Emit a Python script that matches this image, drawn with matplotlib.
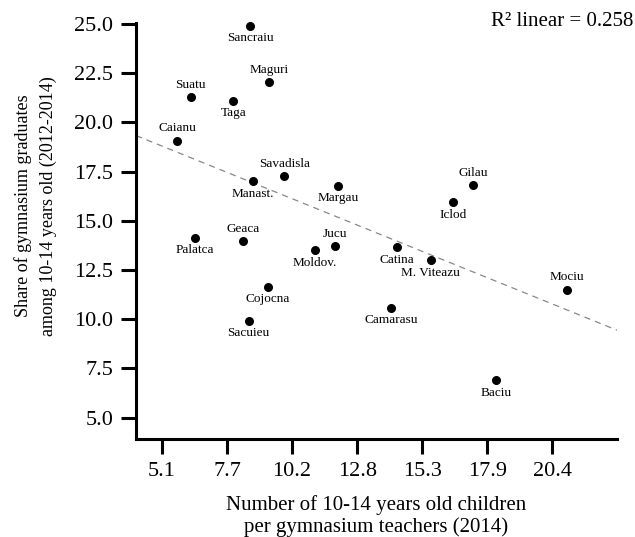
import matplotlib
matplotlib.use("Agg")
import matplotlib.pyplot as plt
import numpy as np

plt.rcParams['font.family'] = ['Liberation Serif', 'DejaVu Serif']

# data
names = ['Sancraiu', 'Maguri', 'Suatu', 'Taga', 'Caianu', 'Savadisla', 'Manast.',
         'Palatca', 'Geaca', 'Moldov.', 'Margau', 'Gilau', 'Iclod', 'Jucu',
         'Catina', 'M. Viteazu', 'Mociu', 'Camarasu', 'Baciu', 'Cojocna', 'Sacuieu']
children_per_teacher = [8.55, 9.31, 6.23, 7.90, 5.69, 9.89, 8.67,
                        6.39, 8.29, 11.08, 11.99, 17.31, 16.50, 11.89,
                        14.32, 15.63, 20.99, 14.07, 18.20, 9.25, 8.50]
graduates_share = [24.92, 22.03, 21.28, 21.10, 19.07, 17.27, 17.02,
                   14.13, 13.96, 13.50, 16.77, 16.80, 15.95, 13.71,
                   13.65, 12.99, 11.49, 10.57, 6.90, 11.64, 9.91]
# label above (+1) or below (-1) the dot
label_side = [-1, 1, 1, -1, 1, 1, -1,
              -1, 1, -1, -1, 1, -1, 1,
              -1, -1, 1, -1, -1, -1, -1]

xticks = [5.1, 7.65, 10.2, 12.75, 15.3, 17.85, 20.4]
xtick_labels = ['5.1', '7.7', '10.2', '12.8', '15.3', '17.9', '20.4']
yticks = [5.0, 7.5, 10.0, 12.5, 15.0, 17.5, 20.0, 22.5, 25.0]

fig = plt.figure(figsize=(6.35, 5.37), dpi=100)
ax = fig.add_axes([0.2142, 0.1825, 0.7575, 0.7747])

x = np.array(children_per_teacher)
y = np.array(graduates_share)

ax.scatter(x, y, s=30, color='black', zorder=3, clip_on=False)

for n, xi, yi, side in zip(names, x, y, label_side):
    ax.annotate(n, (xi, yi), xytext=(0, 9 * side), textcoords='offset points',
                ha='center', va='center', fontsize=9.5)

# linear fit line
xmin, xmax = 4.08, 22.94
k, b = np.polyfit(x, y, 1)
xl = np.array([xmin, xmax])
ax.plot(xl, k * xl + b, linestyle=(0, (5, 4)), color='#888888', linewidth=0.9)

fig.text(0.997, 1 - 22 / 537, 'R² linear = 0.258', ha='right', va='center',
         fontsize=15)

ax.set_xlim(xmin, xmax)
ax.set_ylim(3.91, 25.05)
ax.set_xticks(xticks)
ax.set_xticklabels(xtick_labels)
ax.set_yticks(yticks)
ax.set_yticklabels(['%.1f' % v for v in yticks])

for s in ['top', 'right']:
    ax.spines[s].set_visible(False)
for s in ['left', 'bottom']:
    ax.spines[s].set_linewidth(2.2)
ax.tick_params(width=2.2, length=10.5, labelsize=16, pad=6)

ax.set_xlabel('Number of 10-14 years old children\nper gymnasium teachers (2014)',
              fontsize=15, linespacing=1.2, labelpad=10)
ax.set_ylabel('Share of gymnasium graduates\namong 10-14 years old (2012-2014)',
              fontsize=13, linespacing=1.6, labelpad=12, y=0.56)

fig.savefig('out.png', dpi=100)
